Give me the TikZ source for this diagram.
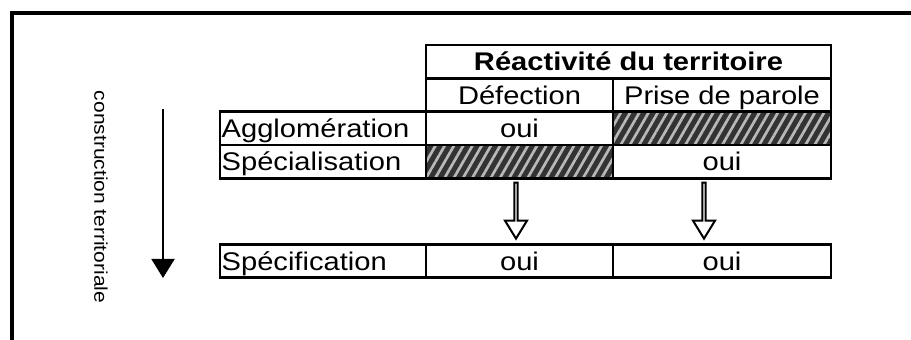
\documentclass[tikz,border=0pt]{standalone}
\usepackage{fontspec}
\setmainfont{Liberation Sans}[FakeStretch=1.14]
\usetikzlibrary{arrows.meta,positioning,calc,shapes.arrows,patterns.meta}

\begin{document}
\begin{tikzpicture}[ >=Latex, font=\fontsize{21.8}{25}\selectfont,
      cell/.style={draw, line width=0.85mm, inner sep=0pt, outer sep=0pt,
      minimum height=10mm, text height=7.3mm, text depth=1.8mm},
      colA/.style={minimum width=56.1mm}, colB/.style={minimum width=65.4mm},
      rowlabel/.style={cell, text width=60.8mm, inner xsep=0.5mm, align=left},
      hatched/.style={preaction={fill=black!80},
      pattern={Lines[angle=60,distance=2.4mm,line width=0.8mm]},
      pattern color=gray!55},
      hollow/.style={draw, line width=0.6mm, single arrow, rotate=-90,
      minimum height=16.8mm, minimum width=6.6mm, inner sep=0pt,
      single arrow head extend=1.8mm, single arrow tip angle=63},
      title/.style={font=\fontsize{21.8}{25}\selectfont\bfseries} ]

    \useasboundingbox (0,0) rectangle (273.3mm,-102mm);

    % Frame
    \draw[line width=1.2mm] (274mm,-3.9mm) -- (3.6mm,-3.9mm) -- (3.6mm,-103mm);

    % Direction of the construction
    \node[font=\fontsize{15.7}{18}\selectfont, rotate=-90] (axis) at
    (30.3mm,-59.1mm) {construction territoriale};
    \coordinate (dtop) at (48.9mm,-32.7mm); \coordinate (dbot) at
    (48.9mm,-83.4mm);
    \draw[line width=0.6mm, -{Triangle[length=5.7mm,width=6.9mm]}] (dtop) --
    (dbot);

    % Table head
    \node[cell, title, minimum width=121.5mm, anchor=north west] (head) at
    (127.8mm,-13.5mm) {Réactivité du territoire};
    \node[cell, colA, below right=0pt and 0pt of head.south west] (exit)
    {Défection}; \node[cell, colB, right=0pt of exit] (voice) {Prise de
    parole};

    % Agglomération / Spécialisation
    \node[cell, colA, below=0pt of exit] (aggA) {oui}; \node[cell, colB,
    hatched, below=0pt of voice] (aggB) {}; \node[rowlabel, left=0pt of aggA]
    (agg) {Agglomération};
    \node[cell, colA, hatched, below=0pt of aggA] (speA) {}; \node[cell, colB,
    below=0pt of aggB] (speB) {oui}; \node[rowlabel, left=0pt of speA] (spe)
    {Spécialisation};

    % Spécification
    \node[cell, colA, below=19.8mm of speA] (sfA) {oui}; \node[cell, colB,
    right=0pt of sfA] (sfB) {oui}; \node[rowlabel, left=0pt of sfA] (sf)
    {Spécification};

    \node[hollow] (flowA) at ($(speA.south)!0.5!(sfA.north)+(-1.05mm,0.6mm)$)
    {}; \node[hollow] (flowB) at
    ($(speB.south)!0.5!(sfB.north)+(-5.4mm,0.6mm)$) {};

  \end{tikzpicture}
\end{document}
